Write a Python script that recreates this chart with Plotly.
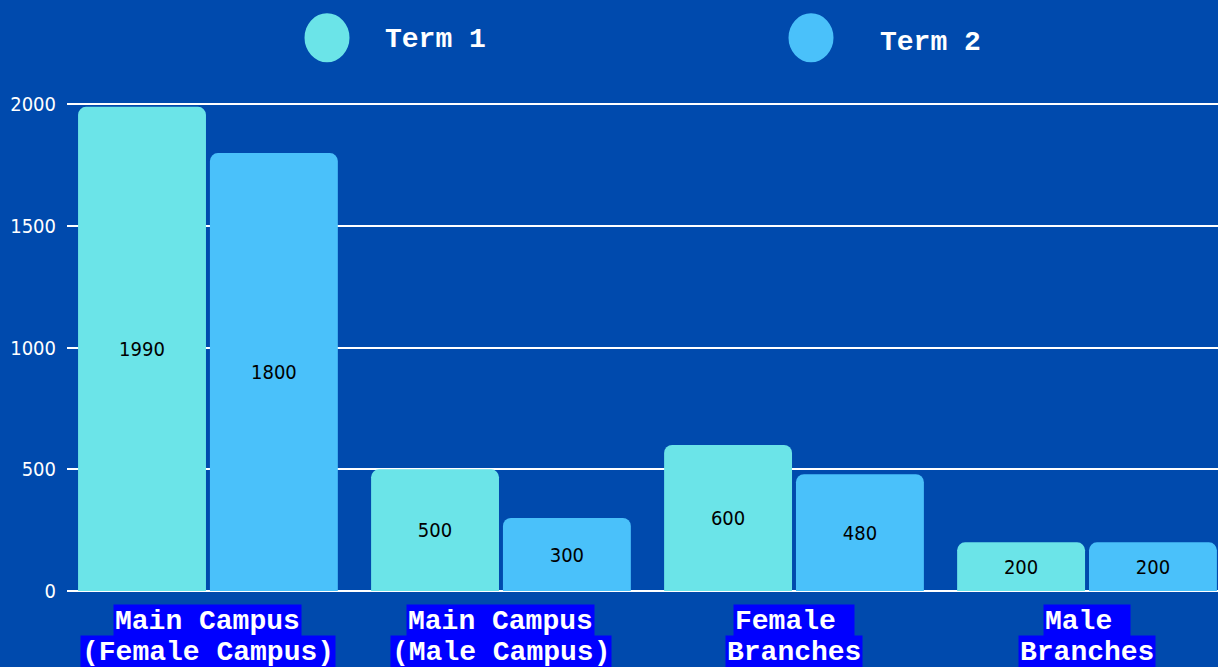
import plotly.graph_objects as go

categories = ["Main Campus\n(Female Campus)", "Main Campus\n(Male Campus)", "Female \nBranches", "Male \nBranches"]
term1 = [1990, 500, 600, 200]
term2 = [1800, 300, 480, 200]
series_names = ["Term 1", "Term 2"]
y_ticks = [0, 500, 1000, 1500, 2000]

BG = "#004AAD"
C1 = "#6BE4E8"
C2 = "#4AC1FA"
TICK_FONT = "DejaVu Sans Condensed, DejaVu Sans"
MONO = "Courier New, Liberation Mono, monospace"

xidx = list(range(len(categories)))

fig = go.Figure()
for name, vals, col in [(series_names[0], term1, C1), (series_names[1], term2, C2)]:
    fig.add_trace(go.Bar(
        x=xidx, y=vals, name=name,
        marker=dict(color=col, cornerradius=8, line=dict(width=0)),
        text=[str(v) for v in vals], textposition="inside",
        insidetextanchor="middle",
        textfont=dict(color="black", size=20, family=TICK_FONT),
        showlegend=False,
    ))

# category labels (one annotation per line, each with its own highlight)
for i, cat in enumerate(categories):
    lines = cat.split("\n")
    for j, ln in enumerate(lines):
        fig.add_annotation(
            x=i, xref="x", y=[-0.0616, -0.1253][j], yref="paper",
            text=ln.replace(" ", "&nbsp;"), showarrow=False,
            font=dict(family=MONO, size=28, color="white", weight="bold"),
            bgcolor="#0000FF", borderpad=1, yanchor="middle", xanchor="center",
        )

# legend drawn manually (large circles)
leg = [(series_names[0], C1, 0.2259, 1.1314, 0.2745, 1.127),
       (series_names[1], C2, 0.6464, 1.1314, 0.7046, 1.121)]
for name, col, cx, cy, tx, ty in leg:
    fig.add_shape(type="circle", xref="paper", yref="paper",
                  xsizemode="pixel", ysizemode="pixel",
                  xanchor=cx, yanchor=cy,
                  x0=-22.5, x1=22.5, y0=-24.5, y1=24.5,
                  fillcolor=col, line=dict(width=0))
    fig.add_annotation(x=tx, y=ty, xref="paper", yref="paper",
                       text=name.replace(" ", "&nbsp;"), showarrow=False,
                       xanchor="left", yanchor="middle",
                       font=dict(family=MONO, size=28, color="white", weight="bold"))

fig.update_layout(
    width=1218, height=667,
    paper_bgcolor=BG, plot_bgcolor=BG,
    margin=dict(l=67, r=0, t=102, b=76),
    barmode="group", bargap=0.1, bargroupgap=0.03,
    xaxis=dict(range=[-0.481, 3.447], showticklabels=False, showgrid=False,
               zeroline=False, showline=False, fixedrange=True),
    yaxis=dict(range=[0, 2010], tickvals=y_ticks, ticktext=[str(t) for t in y_ticks],
               showgrid=True, gridcolor="white", gridwidth=2,
               zeroline=True, zerolinecolor="white", zerolinewidth=2,
               tickfont=dict(color="white", size=20, family=TICK_FONT),
               ticklabelstandoff=10),
)

post = (
    "document.body.style.margin='0';document.body.style.overflow='hidden';"
)
fig.write_html("out.html", post_script=post, config={"displayModeBar": False})
